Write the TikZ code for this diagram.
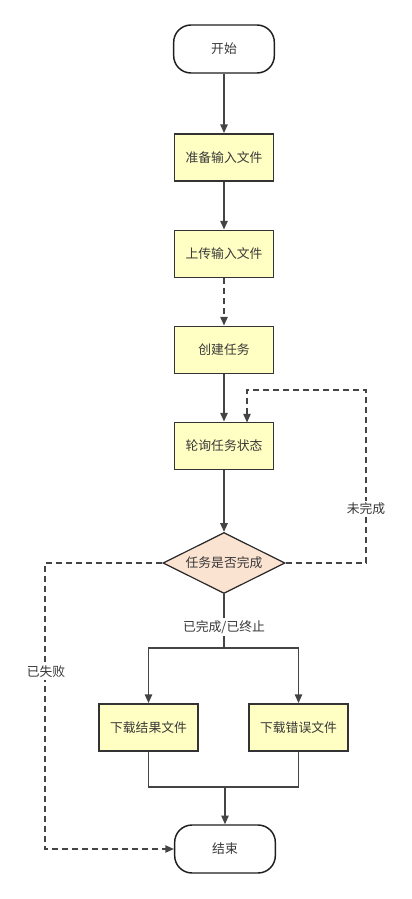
\documentclass[tikz,border=0pt]{standalone}
\usepackage{fontspec}
\setmainfont{Noto Sans CJK SC}
\usetikzlibrary{arrows.meta,shapes.geometric,positioning}
\definecolor{boxfill}{HTML}{FFFFC4}
\definecolor{chkfill}{HTML}{FBE3D2}
\definecolor{linegray}{HTML}{444444}

\begin{document}
\begin{tikzpicture}[x=0.75pt,y=-0.75pt,
        every node/.style={font=\fontsize{9.6pt}{12pt}\selectfont, text=black!78},
        terminal/.style={draw=black!88, line width=1.1pt, fill=white, rounded corners=13pt,
            minimum width=75.5pt, minimum height=36pt},
        stepbox/.style={draw=black!80, line width=1.4pt, fill=boxfill,
            minimum width=74.25pt, minimum height=35.25pt},
        check/.style={diamond, aspect=2, inner sep=0pt, draw=black!85, line width=0.9pt,
            fill=chkfill, minimum width=91.5pt, minimum height=45.75pt},
        conn/.style={draw=linegray, line width=1.1pt},
        arr/.style={conn, -{Triangle[length=6.5pt,width=5.5pt]}},
        dashline/.style={dash pattern=on 4.5pt off 3pt},
        lbl/.style={fill=white, inner sep=1.5pt}]
        \useasboundingbox (0,0) rectangle (411,899);
        % Main column
        \node[terminal] (start) at (224,49) {开始};
        \node[stepbox] (prep) at (224,157.5) {准备输入文件};
        \node[stepbox] (upload) at (224,254) {上传输入文件};
        \node[stepbox] (create) at (224,350) {创建任务};
        \node[stepbox] (poll) at (224,446) {轮询任务状态};
        \node[check] (chk) at (224,563) {任务是否完成};
        % Download boxes and end
        \node[stepbox] (dlres) at (148.5,727.5) {下载结果文件};
        \node[stepbox] (dlerr) at (298.5,727.5) {下载错误文件};
        \node[terminal] (end) at (225,849) {结束};
        % Bends
        \coordinate (loopc) at (366,390);
        \coordinate (pollin) at (247,422.5);
        \coordinate (failc) at (45,672);
        \coordinate (split) at (224,648);
        \coordinate (merge) at (225,787);
        % Arrows down the column
        \draw[arr] (start) -- (prep);
        \draw[arr] (prep) -- (upload);
        \draw[arr, dashline] (upload) -- (create);
        \draw[arr] (create) -- (poll);
        \draw[arr] (poll) -- (chk);
        % Not finished: back to polling
        \draw[arr, dashline] (chk.east) -| (loopc) -| (pollin);
        \node[lbl] (notdone) at (366,509) {未完成};
        % Failed
        \draw[arr, dashline] (chk.west) -| (failc) |- (end.west);
        \node[lbl] (failed) at (46,672) {已失败};
        % Finished or stopped
        \draw[conn] (chk.south) -- (split);
        \node[lbl] (done) at (224,627) {已完成/已终止};
        \draw[arr] (split) -| (dlres.north);
        \draw[arr] (split) -| (dlerr.north);
        \draw[conn] (dlres.south) |- (merge);
        \draw[conn] (dlerr.south) |- (merge);
        \draw[arr] (merge) -- (end.north);
    \end{tikzpicture}
\end{document}
